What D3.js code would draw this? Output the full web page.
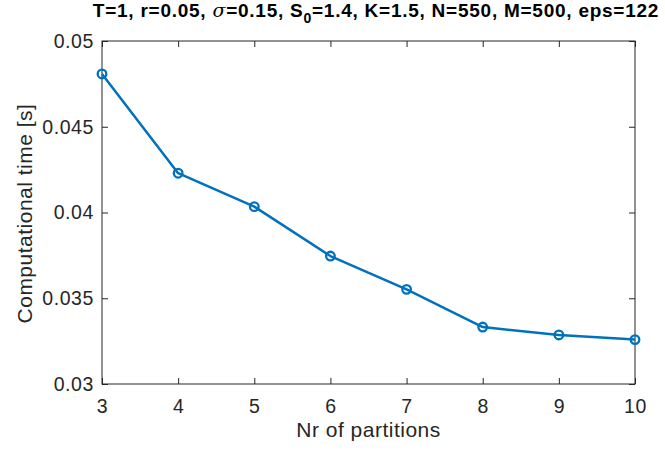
<!DOCTYPE html>
<html>
<head>
<meta charset="utf-8">
<script src="https://cdn.jsdelivr.net/npm/d3@7"></script>
<style>
  html, body { margin: 0; padding: 0; background: #fff; }
  svg { display: block; }
  text { font-family: "Liberation Sans", Arial, Helvetica, sans-serif; }
</style>
</head>
<body>
<svg id="chart" width="665" height="454"></svg>
<script>
// Partition counts and measured run times
const partitions = [3, 4, 5, 6, 7, 8, 9, 10];
const times = [0.04808, 0.04229, 0.04034, 0.03746, 0.03552, 0.03332, 0.03286, 0.03259];
const yTicks = [0.03, 0.035, 0.04, 0.045, 0.05];
const yTickLabels = ["0.03", "0.035", "0.04", "0.045", "0.05"];

const svg = d3.select("#chart");
const W = 665, H = 454;
const margin = { left: 102, right: 30, top: 41, bottom: 70 };
const x0 = margin.left, x1 = W - margin.right, y0 = H - margin.bottom, y1 = margin.top;

const x = d3.scaleLinear().domain([3, 10]).range([x0, x1]);
const y = d3.scaleLinear().domain([0.03, 0.05]).range([y0, y1]);

const axisColor = "#262626";
const lineColor = "#0072BD";

// Box outline
svg.append("rect")
  .attr("x", x0).attr("y", y1)
  .attr("width", x1 - x0).attr("height", y0 - y1)
  .attr("fill", "none").attr("stroke", axisColor).attr("stroke-width", 1);

// Axes with inward ticks on all four sides
const tickLen = 6;
const xAxisB = d3.axisBottom(x).tickValues(partitions).tickSize(-tickLen).tickPadding(tickLen + 9).tickFormat(d3.format("d"));
const xAxisT = d3.axisTop(x).tickValues(partitions).tickSize(-tickLen).tickFormat("");
const yAxisL = d3.axisLeft(y).tickValues(yTicks).tickSize(-tickLen).tickPadding(tickLen + 2)
  .tickFormat((d, i) => yTickLabels[i]);
const yAxisR = d3.axisRight(y).tickValues(yTicks).tickSize(-tickLen).tickFormat("");

function style(g) {
  g.select(".domain").remove();
  g.selectAll(".tick line").attr("stroke", axisColor);
  g.selectAll(".tick text").attr("fill", axisColor)
    .style("font-size", "19.5px").style("letter-spacing", "0.6px")
    .style("font-family", "'Liberation Sans', Arial, sans-serif");
}

svg.append("g").attr("transform", `translate(0,${y0})`).call(xAxisB).call(style);
svg.append("g").attr("transform", `translate(0,${y1})`).call(xAxisT).call(style);
svg.append("g").attr("transform", `translate(${x0},0)`).call(yAxisL).call(style);
svg.append("g").attr("transform", `translate(${x1},0)`).call(yAxisR).call(style);

// Data line and circle markers
const pts = partitions.map((p, i) => [p, times[i]]);
svg.append("path")
  .datum(pts)
  .attr("d", d3.line().x(d => x(d[0])).y(d => y(d[1])))
  .attr("fill", "none").attr("stroke", lineColor).attr("stroke-width", 2.5)
  .attr("stroke-linejoin", "round");

svg.append("g").selectAll("circle")
  .data(pts).join("circle")
  .attr("cx", d => x(d[0])).attr("cy", d => y(d[1]))
  .attr("r", 4.3).attr("fill", "none")
  .attr("stroke", lineColor).attr("stroke-width", 2.3);

// Axis labels
svg.append("text")
  .attr("x", (x0 + x1) / 2).attr("y", 437)
  .attr("text-anchor", "middle").attr("fill", axisColor)
  .style("font-size", "21px").style("letter-spacing", "0.5px")
  .text("Nr of partitions");

svg.append("text")
  .attr("transform", `translate(32,${(y0 + y1) / 2 + 1}) rotate(-90)`)
  .attr("text-anchor", "middle").attr("fill", axisColor)
  .style("font-size", "21px").style("letter-spacing", "0.5px")
  .text("Computational time [s]");

// Title with Greek sigma and subscript
const title = svg.append("text")
  .attr("x", 376).attr("y", 17)
  .attr("text-anchor", "middle").attr("fill", "#000")
  .style("font-size", "19px").style("font-weight", "bold").style("letter-spacing", "0.75px");
title.append("tspan").text("T=1, r=0.05, ");
title.append("tspan").style("font-style", "italic").style("font-weight", "normal")
  .style("font-family", "'DejaVu Serif', serif").text("σ");
title.append("tspan").text("=0.15, S");
title.append("tspan").attr("dy", 6).style("font-size", "14px").text("0");
title.append("tspan").attr("dy", -6).text("=1.4, K=1.5, N=550, M=500, eps=122");
</script>
</body>
</html>
